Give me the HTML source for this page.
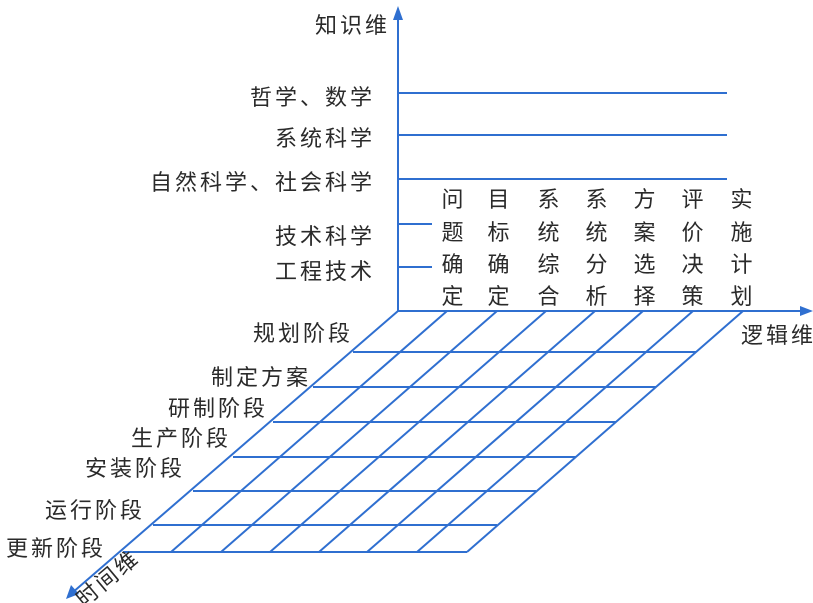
<!DOCTYPE html>
<html><head><meta charset="utf-8"><style>
html,body{margin:0;padding:0;background:#fff;width:813px;height:603px;overflow:hidden}
svg text{font-family:"Liberation Sans","Noto Sans CJK SC",sans-serif;fill:#2a2a2a;font-size:22px;letter-spacing:3px}
</style></head><body>
<svg width="813" height="603" viewBox="0 0 813 603" xmlns="http://www.w3.org/2000/svg">
<g stroke="#2f6fd0" stroke-width="2" fill="none">
<!-- vertical axis -->
<line x1="398" y1="311" x2="398" y2="16"/>
<!-- horizontal axis -->
<line x1="398" y1="311" x2="804" y2="311"/>
<!-- time axis -->
<line x1="398" y1="311" x2="72" y2="593"/>
<!-- knowledge lines -->
<line x1="398" y1="93" x2="727" y2="93"/>
<line x1="398" y1="135" x2="727" y2="135"/>
<line x1="398" y1="179" x2="727" y2="179"/>
<line x1="398" y1="224" x2="432" y2="224"/>
<line x1="398" y1="267" x2="432" y2="267"/>
<!-- rows -->
<line x1="353" y1="352" x2="696" y2="352"/>
<line x1="313" y1="387" x2="656" y2="387"/>
<line x1="273" y1="422" x2="616" y2="422"/>
<line x1="233" y1="457" x2="576" y2="457"/>
<line x1="193" y1="491" x2="536" y2="491"/>
<line x1="153" y1="525" x2="497" y2="525"/>
<line x1="123" y1="552" x2="467" y2="552"/>
<!-- diagonals -->
<line x1="447" y1="311" x2="171" y2="552"/>
<line x1="497" y1="311" x2="221" y2="552"/>
<line x1="546" y1="311" x2="270" y2="552"/>
<line x1="595" y1="311" x2="319" y2="552"/>
<line x1="643" y1="311" x2="367" y2="552"/>
<line x1="693" y1="311" x2="417" y2="552"/>
<line x1="743" y1="311" x2="467" y2="552"/>
</g>
<g fill="#2f6fd0">
<polygon points="398,6 393,20 403,20"/>
<polygon points="813,311 800,306 800,316"/>
<polygon points="66,599 71,585 79,594"/>
</g>
<g text-anchor="end">
<text x="390" y="33">知识维</text>
<text x="375" y="105">哲学、数学</text>
<text x="375" y="146">系统科学</text>
<text x="375" y="190">自然科学、社会科学</text>
<text x="375" y="244">技术科学</text>
<text x="375" y="279">工程技术</text>
<text x="353" y="341">规划阶段</text>
<text x="311" y="385">制定方案</text>
<text x="268" y="416">研制阶段</text>
<text x="231" y="446">生产阶段</text>
<text x="185" y="476">安装阶段</text>
<text x="145" y="518">运行阶段</text>
<text x="106" y="556">更新阶段</text>
</g>
<text x="741" y="343">逻辑维</text>
<text x="0" y="0" transform="translate(84,608) rotate(-40)">时间维</text>
<g text-anchor="middle" style="letter-spacing:0">
<text x="454" y="207">问</text><text x="454" y="240">题</text><text x="454" y="272">确</text><text x="454" y="304">定</text>
<text x="500" y="207">目</text><text x="500" y="240">标</text><text x="500" y="272">确</text><text x="500" y="304">定</text>
<text x="550" y="207">系</text><text x="550" y="240">统</text><text x="550" y="272">综</text><text x="550" y="304">合</text>
<text x="598" y="207">系</text><text x="598" y="240">统</text><text x="598" y="272">分</text><text x="598" y="304">析</text>
<text x="646" y="207">方</text><text x="646" y="240">案</text><text x="646" y="272">选</text><text x="646" y="304">择</text>
<text x="694" y="207">评</text><text x="694" y="240">价</text><text x="694" y="272">决</text><text x="694" y="304">策</text>
<text x="743" y="207">实</text><text x="743" y="240">施</text><text x="743" y="272">计</text><text x="743" y="304">划</text>
</g>
</svg>
</body></html>
